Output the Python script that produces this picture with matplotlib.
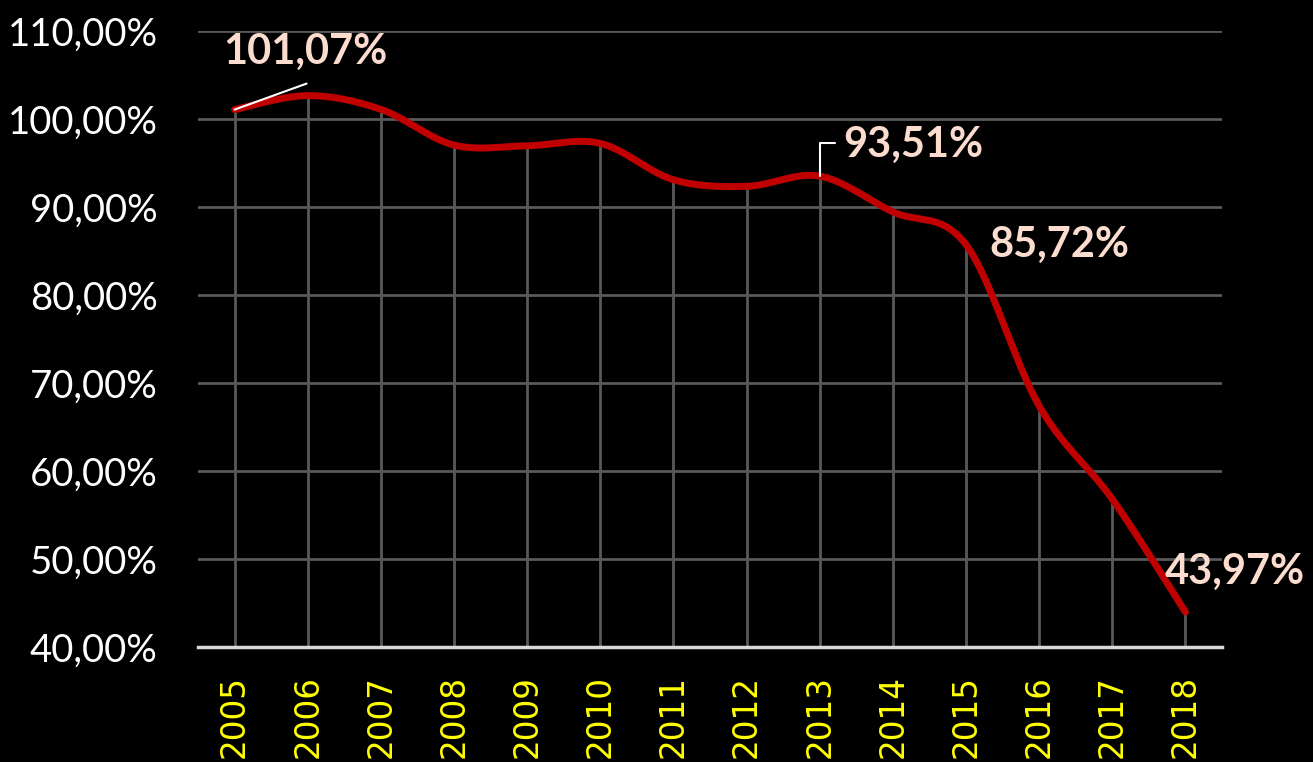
import numpy as np
import matplotlib.pyplot as plt
from matplotlib.ticker import FuncFormatter

years = [2005, 2006, 2007, 2008, 2009, 2010, 2011, 2012, 2013, 2014, 2015, 2016, 2017, 2018]
values = [101.07, 102.66, 101.1, 97.04, 96.96, 97.23, 93.1, 92.35, 93.51, 89.44, 85.72, 67.4, 56.8, 43.97]

# labelled points: index, text, offset of text (px), leader style
labelled = [
    (0, "101,07%", (-11, 58), "line"),
    (8, "93,51%", (24, 31), "elbow"),
    (10, "85,72%", (23, 0), None),
    (13, "43,97%", (-21, 40), None),
]

RED = "#C00000"
GRID = "#595959"
LABEL = "#FBDCCF"


def smooth(x, y, n=40):
    # bezier smoothing like office "smoothed line"
    x = np.asarray(x, float)
    y = np.asarray(y, float)
    px = np.concatenate([[x[0]], x, [x[-1]]])
    py = np.concatenate([[y[0]], y, [y[-1]]])
    xs, ys = [], []
    t = np.linspace(0, 1, n)
    for i in range(1, len(px) - 2):
        p0 = np.array([px[i], py[i]])
        p3 = np.array([px[i + 1], py[i + 1]])
        p1 = p0 + (np.array([px[i + 1], py[i + 1]]) - np.array([px[i - 1], py[i - 1]])) / 6
        p2 = p3 - (np.array([px[i + 2], py[i + 2]]) - np.array([px[i], py[i]])) / 6
        b = ((1 - t) ** 3)[:, None] * p0 + (3 * (1 - t) ** 2 * t)[:, None] * p1 \
            + (3 * (1 - t) * t ** 2)[:, None] * p2 + (t ** 3)[:, None] * p3
        xs.append(b[:, 0])
        ys.append(b[:, 1])
    return np.concatenate(xs), np.concatenate(ys)


fig = plt.figure(figsize=(13.13, 7.62), dpi=100, facecolor="black")
ax = fig.add_axes([0.1508, 0.1509, 0.7799, 0.8084], facecolor="black")

ax.set_xlim(years[0] - 0.5, years[-1] + 0.5)
ax.set_ylim(40, 110)
ax.set_yticks(np.arange(40, 111, 10))
ax.set_xticks(years)
ax.yaxis.set_major_formatter(FuncFormatter(lambda v, p: f"{v:.2f}%".replace(".", ",")))

for v in np.arange(50, 111, 10):
    ax.axhline(v, color=GRID, lw=2, zorder=1)

# drop lines
ax.vlines(years, 40, values, color=GRID, lw=2, zorder=1)

sx, sy = smooth(years, values)
ax.plot(sx, sy, color=RED, lw=5, solid_capstyle="round", zorder=3)

for s in ["top", "right", "left"]:
    ax.spines[s].set_visible(False)
ax.spines["bottom"].set_color("#D9D9D9")
ax.spines["bottom"].set_linewidth(2.5)
ax.spines["bottom"].set_zorder(2)

ax.tick_params(axis="y", length=0, pad=29, labelcolor="white", labelsize=27.5)
ax.tick_params(axis="x", length=0, pad=20, labelcolor="#FFFF00", labelsize=23.5, labelrotation=90)
for lb in ax.get_yticklabels():
    lb.set_fontfamily("Lato")
for lb in ax.get_xticklabels():
    lb.set_fontfamily("DejaVu Sans")

for i, txt, (dx, dy), leader in labelled:
    ax.annotate(txt, (years[i], values[i]), xytext=(dx * 0.72, dy * 0.72),
                textcoords="offset points", ha="left", va="center",
                color=LABEL, fontsize=30, fontweight="bold", fontfamily="Lato", zorder=5)
    if leader == "line":
        ax.annotate("", (years[i], values[i]), xytext=(72 * 0.72, 26 * 0.72),
                    textcoords="offset points",
                    arrowprops=dict(arrowstyle="-", color="white", lw=1.5, shrinkA=0, shrinkB=0),
                    zorder=6)
    elif leader == "elbow":
        ax.annotate("", (years[i], values[i]), xytext=(15 * 0.72, 33 * 0.72),
                    textcoords="offset points",
                    arrowprops=dict(arrowstyle="-", color="white", lw=1.5, shrinkA=0, shrinkB=0,
                                    connectionstyle="angle,angleA=0,angleB=90,rad=0"),
                    zorder=6)

fig.savefig("out.png", dpi=100, facecolor="black")
